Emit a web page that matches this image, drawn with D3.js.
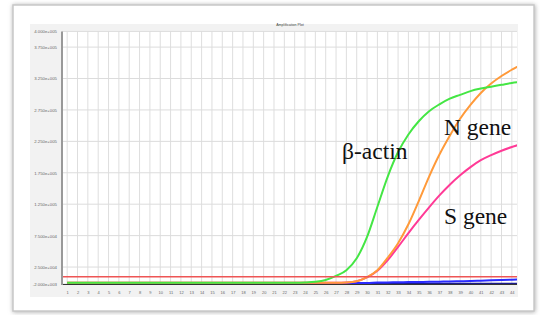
<!DOCTYPE html>
<html>
<head>
<meta charset="utf-8">
<script src="https://cdn.jsdelivr.net/npm/d3@7"></script>
<style>
html,body{margin:0;padding:0;background:#fff;}
svg{display:block;}
</style>
</head>
<body>
<svg id="chart" width="540" height="315"></svg>
<script>
// ---------- data ----------
const cycles = d3.range(1, 46); // cycle numbers 1..45
const xTickLabels = d3.range(1, 45);
const yTickValues = [-2000, 25000, 75000, 125000, 175000, 225000, 275000, 325000, 375000, 400000];
const title = "Amplification Plot";

const betaActin = [0,0,0,0,0,0,0,0,0,0,0,0,0,0,0,0,0,0,0,0,0,0,0,
  400,1500,4500,11000,20000,39000,73000,121000,169000,208000,236000,257000,273000,284000,293000,299000,305000,309000,312000,315000,318000,320000];
const nGene = [0,0,0,0,0,0,0,0,0,0,0,0,0,0,0,0,0,0,0,0,0,0,0,0,0,0,0,
  500,2500,9000,20000,40000,63000,93000,130000,169000,204000,234000,261000,283000,302000,317000,329000,339000,348000];
const sGene = [0,0,0,0,0,0,0,0,0,0,0,0,0,0,0,0,0,0,0,0,0,0,0,0,0,0,0,
  500,2500,8500,19000,36000,57000,79000,100000,120000,139000,156000,171000,184000,195000,203000,210000,216000,221000];
const ntcBlue = [-600,-600,-600,-600,-600,-600,-600,-600,-600,-600,-600,-600,-600,-600,-600,-600,-600,-600,-600,-600,-600,-600,-600,-600,-600,-600,-600,-600,-600,-600,
  300,500,800,1000,1200,1400,1700,2000,2400,2800,3300,3800,4300,4800,5300];
const ntcNavy = [-1100,-1100,-1100,-1100,-1100,-1100,-1100,-1100,-1100,-1100,-1100,-1100,-1100,-1100,-1100,-1100,-1100,-1100,-1100,-1100,-1100,-1100,-1100,-1100,-1100,-1100,-1100,-1100,-1100,-1100,
  -1100,-1100,-1100,-1100,-1100,-1100,-1100,-1100,-1100,-1100,-1100,-1100,-1100,-1100,-1100];
const threshold = 9500;

const series = [
  {name:"navy", values: ntcNavy, color:"#1a1a8c", width:1.6},
  {name:"blue", values: ntcBlue, color:"#2a2aff", width:2},
  {name:"S gene", values: sGene, color:"#ff3a96", width:2},
  {name:"N gene", values: nGene, color:"#ff9a3a", width:2},
  {name:"β-actin", values: betaActin, color:"#44e644", width:2}
];
const labels = [
  {text:"β-actin", cycle:27.58, value:197000},
  {text:"N gene", cycle:37.44, value:235000},
  {text:"S gene", cycle:37.44, value:93500}
];

// ---------- layout ----------
const svg = d3.select("#chart");
const plot = {left:62, right:517, top:31.4, bottom:284};

const x = d3.scaleLinear().domain([0.5, 44.5]).range([plot.left, plot.right]);
const y = d3.scaleLinear().domain([-2000, 400000]).range([plot.bottom, plot.top]);

// card with shadow
const defs = svg.append("defs");
const f = defs.append("filter").attr("id","sh").attr("x","-5%").attr("y","-5%").attr("width","110%").attr("height","110%");
f.append("feDropShadow").attr("dx",0.5).attr("dy",0.5).attr("stdDeviation",2).attr("flood-color","#888").attr("flood-opacity",0.7);
defs.append("clipPath").attr("id","clip").append("rect")
  .attr("x",plot.left).attr("y",plot.top-2).attr("width",plot.right-plot.left).attr("height",plot.bottom-plot.top+2);

svg.append("rect").attr("x",13).attr("y",5).attr("width",521).attr("height",306)
  .attr("fill","#fff").attr("stroke","#c8c8c8").attr("stroke-width",1.5).attr("filter","url(#sh)");

// panel
svg.append("rect").attr("x",30).attr("y",24).attr("width",488).attr("height",273).attr("fill","#f2f2f2");
svg.append("rect").attr("x",plot.left).attr("y",plot.top).attr("width",plot.right-plot.left).attr("height",plot.bottom-plot.top).attr("fill","#fff");

// title
svg.append("text").attr("x",290).attr("y",26).attr("text-anchor","middle")
  .attr("font-family","Liberation Sans, Arial, sans-serif").attr("font-size",3.6).attr("fill","#444").text(title);

// grid
const g = svg.append("g");
g.selectAll("line.vg").data(xTickLabels).join("line").attr("class","vg")
  .attr("x1",d=>x(d)).attr("x2",d=>x(d)).attr("y1",plot.top).attr("y2",plot.bottom)
  .attr("stroke","#dedede").attr("stroke-width",1);
g.selectAll("line.hg").data(yTickValues).join("line").attr("class","hg")
  .attr("x1",plot.left).attr("x2",plot.right).attr("y1",d=>y(d)).attr("y2",d=>y(d))
  .attr("stroke","#dcdcdc").attr("stroke-width",1);

// y axis
function fmt(v){
  if (v === 0) return "0.000e+000";
  const s = v < 0 ? "-" : "";
  const a = Math.abs(v);
  const e = Math.floor(Math.log10(a));
  const m = a / Math.pow(10, e);
  return s + m.toFixed(3) + "e+" + String(e).padStart(3,"0");
}
const yAxis = d3.axisLeft(y).tickValues(yTickValues).tickFormat(fmt).tickSize(0).tickPadding(5);
const ya = svg.append("g").attr("transform",`translate(${plot.left},0)`).call(yAxis);
ya.select(".domain").remove();
ya.selectAll("text").attr("font-family","Liberation Sans, Arial, sans-serif").attr("font-size",4.3).attr("fill","#666");

// x axis
const xAxis = d3.axisBottom(x).tickValues(xTickLabels).tickFormat(d=>d).tickSize(0).tickPadding(7);
const xa = svg.append("g").attr("transform",`translate(0,${plot.bottom})`).call(xAxis);
xa.select(".domain").remove();
xa.selectAll("text").attr("font-family","Liberation Sans, Arial, sans-serif").attr("font-size",4).attr("fill","#666");

// curves
const line = d3.line().x((d,i)=>x(cycles[i])).y(d=>y(d)).curve(d3.curveMonotoneX);
const cg = svg.append("g").attr("clip-path","url(#clip)");
cg.selectAll("path.s").data(series).join("path").attr("class","s")
  .attr("d",d=>line(d.values)).attr("fill","none")
  .attr("stroke",d=>d.color).attr("stroke-width",d=>d.width).attr("stroke-linejoin","round");

// threshold
svg.append("line").attr("x1",plot.left).attr("x2",plot.right).attr("y1",y(threshold)).attr("y2",y(threshold))
  .attr("stroke","#ee5555").attr("stroke-width",1.3);

// axis lines
svg.append("line").attr("x1",plot.left).attr("x2",plot.right).attr("y1",plot.bottom+0.5).attr("y2",plot.bottom+0.5)
  .attr("stroke","#333").attr("stroke-width",1);
svg.append("line").attr("x1",plot.left).attr("x2",plot.left).attr("y1",plot.top).attr("y2",plot.bottom+1)
  .attr("stroke","#999").attr("stroke-width",2);

// labels
svg.selectAll("text.lab").data(labels).join("text").attr("class","lab")
  .attr("x",d=>x(d.cycle)).attr("y",d=>y(d.value))
  .attr("font-family","Liberation Serif, Times New Roman, serif").attr("font-size",23.5).attr("fill","#111")
  .text(d=>d.text);
</script>
</body>
</html>
